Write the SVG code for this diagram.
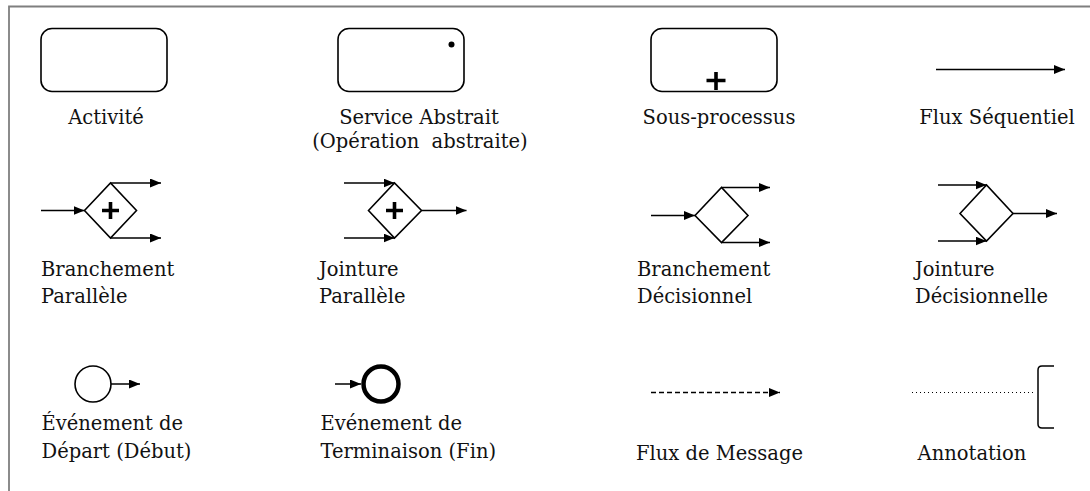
<svg xmlns="http://www.w3.org/2000/svg" width="1090" height="491" viewBox="0 0 1090 491">
<style>
text{font-family:"DejaVu Serif","Liberation Serif",serif;font-size:19.5px;fill:#111;white-space:pre}
.c{text-anchor:middle}
.shape{fill:#fff;stroke:#000;stroke-width:1.6}
.line{fill:none;stroke:#000;stroke-width:1.5}
.plus{stroke:#000;stroke-width:3.6;fill:none}
</style>
<defs>
<marker id="arrow" markerUnits="userSpaceOnUse" markerWidth="11" markerHeight="9" refX="11" refY="4.5" orient="auto">
<path d="M0,0 L11,4.5 L0,9 z" fill="#000"/>
</marker>
</defs>
<rect width="1090" height="491" fill="#fff"/>
<path d="M9,491 V6.5 H1090" fill="none" stroke="#7f7f7f" stroke-width="1.8"/>

<g id="connectors">
<line class="line" x1="936" y1="69.5" x2="1065" y2="69.5" marker-end="url(#arrow)"/>
<line class="line" x1="41" y1="210.5" x2="84.5" y2="210.5" marker-end="url(#arrow)"/>
<line class="line" x1="110.5" y1="183" x2="161" y2="183" marker-end="url(#arrow)"/>
<line class="line" x1="110.5" y1="238" x2="161" y2="238" marker-end="url(#arrow)"/>
<line class="line" x1="344" y1="183" x2="394.5" y2="183" marker-end="url(#arrow)"/>
<line class="line" x1="344" y1="238" x2="394.5" y2="238" marker-end="url(#arrow)"/>
<line class="line" x1="421.5" y1="210.5" x2="466.5" y2="210.5" marker-end="url(#arrow)"/>
<line class="line" x1="651" y1="215.5" x2="695" y2="215.5" marker-end="url(#arrow)"/>
<line class="line" x1="721.5" y1="187.5" x2="770" y2="187.5" marker-end="url(#arrow)"/>
<line class="line" x1="721.5" y1="242.5" x2="770" y2="242.5" marker-end="url(#arrow)"/>
<line class="line" x1="938" y1="185" x2="986.5" y2="185" marker-end="url(#arrow)"/>
<line class="line" x1="938" y1="241" x2="986.5" y2="241" marker-end="url(#arrow)"/>
<line class="line" x1="1013" y1="213.5" x2="1057" y2="213.5" marker-end="url(#arrow)"/>
<line class="line" x1="111" y1="384" x2="140" y2="384" marker-end="url(#arrow)"/>
<line class="line" x1="335" y1="384" x2="361" y2="384" marker-end="url(#arrow)"/>
<line class="line" x1="651" y1="392.5" x2="780" y2="392.5" stroke-dasharray="5,3" marker-end="url(#arrow)"/>
<line x1="912" y1="392.5" x2="1034" y2="392.5" stroke="#000" stroke-width="1.1" stroke-dasharray="1,3"/>
</g>

<g id="activite">
<rect class="shape" x="41" y="28.5" width="126" height="63" rx="11"/>
<text class="c" x="106" y="124">Activité</text>
</g>

<g id="service-abstrait">
<rect class="shape" x="338" y="28.5" width="126" height="63" rx="11"/>
<circle cx="451.5" cy="44.5" r="3" fill="#000"/>
<text class="c" x="419" y="123.5">Service Abstrait</text>
<text class="c" x="420" y="148">(Opération  abstraite)</text>
</g>

<g id="sous-processus">
<rect class="shape" x="651" y="28.5" width="126" height="63" rx="11"/>
<path class="plus" d="M716,72 V90 M706.5,80.5 H725.5"/>
<text class="c" x="719" y="124">Sous-processus</text>
</g>

<g id="flux-sequentiel">
<text class="c" x="997" y="124">Flux Séquentiel</text>
</g>

<g id="branchement-parallele">
<polygon class="shape" points="84.5,210.5 110.5,183 136.5,210.5 110.5,238"/>
<path class="plus" d="M110.5,202 V219 M102,210.5 H119"/>
<text x="41" y="275.5">Branchement</text>
<text x="41" y="302.5">Parallèle</text>
</g>

<g id="jointure-parallele">
<polygon class="shape" points="368.5,210.5 394.5,183 421.5,210.5 394.5,238"/>
<path class="plus" d="M394.5,202 V219 M386,210.5 H403"/>
<text x="319" y="275.5">Jointure</text>
<text x="319" y="302.5">Parallèle</text>
</g>

<g id="branchement-decisionnel">
<polygon class="shape" points="695,215.5 721.5,187.5 748,215.5 721.5,242.5"/>
<text x="637" y="275.5">Branchement</text>
<text x="637" y="302.5">Décisionnel</text>
</g>

<g id="jointure-decisionnelle">
<polygon class="shape" points="960,213.5 986.5,185 1013,213.5 986.5,241"/>
<text x="915" y="275.5">Jointure</text>
<text x="915" y="302.5">Décisionnelle</text>
</g>

<g id="evenement-depart">
<circle class="shape" cx="93" cy="384" r="18"/>
<text x="41.5" y="430">Événement de</text>
<text x="41.5" y="458">Départ (Début)</text>
</g>

<g id="evenement-fin">
<circle cx="381" cy="384" r="17.5" fill="#fff" stroke="#000" stroke-width="4.5"/>
<text x="320.5" y="430">Evénement de</text>
<text x="320.5" y="458">Terminaison (Fin)</text>
</g>

<g id="flux-message">
<text class="c" x="719.5" y="460">Flux de Message</text>
</g>

<g id="annotation">
<path class="line" d="M1054,366 H1042 Q1038,366 1038,370 V424 Q1038,428 1042,428 H1054"/>
<text class="c" x="972" y="460">Annotation</text>
</g>
</svg>
